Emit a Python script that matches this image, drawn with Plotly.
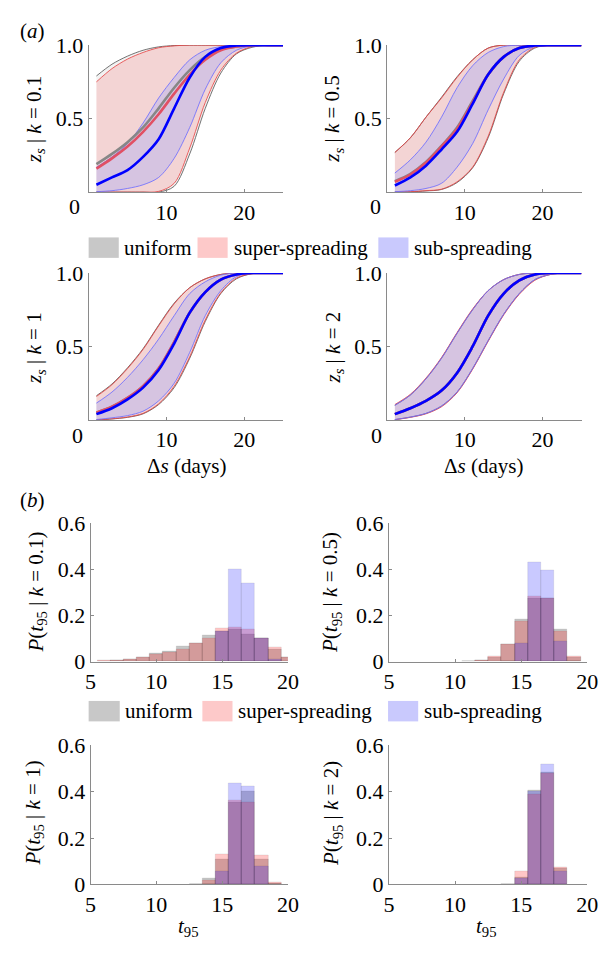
import plotly.graph_objects as go

W, H = 610, 953
FONT = "Liberation Serif, Times New Roman, DejaVu Serif, serif"

# ---------------- data: panel (a) ----------------
S = [1, 3, 5, 7, 9, 11, 13, 15, 17, 19, 21, 23, 25]

# k = 0.1
k01_gray_lo = [0, 0, 0, 0, 0, 0.04, 0.26, 0.57, 0.81, 0.94, 0.985, 0.998, 1]
k01_gray_med = [0.19, 0.26, 0.34, 0.44, 0.57, 0.71, 0.83, 0.92, 0.97, 0.99, 1, 1, 1]
k01_gray_hi = [0.79, 0.87, 0.925, 0.965, 0.988, 0.997, 1, 1, 1, 1, 1, 1, 1]
k01_red_lo = [0, 0, 0, 0, 0.005, 0.06, 0.30, 0.61, 0.83, 0.945, 0.99, 0.998, 1]
k01_red_med = [0.16, 0.23, 0.31, 0.41, 0.53, 0.67, 0.80, 0.90, 0.965, 0.99, 1, 1, 1]
k01_red_hi = [0.75, 0.84, 0.905, 0.95, 0.982, 0.995, 1, 1, 1, 1, 1, 1, 1]
k01_blue_lo = [0.003, 0.01, 0.025, 0.05, 0.10, 0.23, 0.44, 0.70, 0.88, 0.965, 0.995, 1, 1]
k01_blue_med = [0.05, 0.10, 0.15, 0.24, 0.36, 0.57, 0.78, 0.92, 0.98, 0.997, 1, 1, 1]
k01_blue_hi = [0.17, 0.24, 0.33, 0.47, 0.64, 0.78, 0.90, 0.965, 0.99, 1, 1, 1, 1]

# k = 0.5
k05_gray_lo = [0, 0.002, 0.008, 0.018, 0.065, 0.165, 0.37, 0.67, 0.89, 0.98, 1, 1, 1]
k05_gray_med = [0.075, 0.125, 0.205, 0.315, 0.44, 0.62, 0.80, 0.92, 0.98, 0.997, 1, 1, 1]
k05_gray_hi = [0.27, 0.37, 0.51, 0.645, 0.785, 0.90, 0.98, 1, 1, 1, 1, 1, 1]
k05_red_lo = [0, 0.003, 0.01, 0.02, 0.07, 0.17, 0.38, 0.68, 0.90, 0.985, 1, 1, 1]
k05_red_med = [0.07, 0.12, 0.20, 0.31, 0.43, 0.61, 0.80, 0.92, 0.98, 0.997, 1, 1, 1]
k05_red_hi = [0.27, 0.37, 0.51, 0.64, 0.78, 0.90, 0.98, 1, 1, 1, 1, 1, 1]
k05_blue_lo = [0.003, 0.01, 0.025, 0.06, 0.17, 0.33, 0.56, 0.77, 0.93, 0.99, 1, 1, 1]
k05_blue_med = [0.045, 0.10, 0.18, 0.29, 0.41, 0.60, 0.80, 0.92, 0.98, 0.997, 1, 1, 1]
k05_blue_hi = [0.13, 0.22, 0.34, 0.51, 0.71, 0.86, 0.95, 0.99, 1, 1, 1, 1, 1]

# k = 1
k1_gray_lo = [0, 0.007, 0.018, 0.042, 0.105, 0.22, 0.42, 0.67, 0.86, 0.96, 0.995, 1, 1]
k1_gray_med = [0.05, 0.09, 0.15, 0.23, 0.35, 0.53, 0.73, 0.87, 0.955, 0.99, 1, 1, 1]
k1_gray_hi = [0.165, 0.245, 0.355, 0.485, 0.645, 0.795, 0.90, 0.96, 0.99, 1, 1, 1, 1]
k1_red_lo = [0, 0.008, 0.02, 0.045, 0.11, 0.23, 0.43, 0.68, 0.865, 0.965, 0.995, 1, 1]
k1_red_med = [0.05, 0.09, 0.15, 0.23, 0.35, 0.53, 0.73, 0.87, 0.955, 0.99, 1, 1, 1]
k1_red_hi = [0.16, 0.24, 0.35, 0.48, 0.64, 0.79, 0.90, 0.96, 0.99, 1, 1, 1, 1]
k1_blue_lo = [0.003, 0.015, 0.03, 0.06, 0.13, 0.25, 0.46, 0.71, 0.88, 0.975, 1, 1, 1]
k1_blue_med = [0.04, 0.08, 0.14, 0.22, 0.34, 0.52, 0.73, 0.87, 0.955, 0.99, 1, 1, 1]
k1_blue_hi = [0.115, 0.19, 0.29, 0.41, 0.55, 0.71, 0.86, 0.94, 0.985, 1, 1, 1, 1]

# k = 2
k2_gray_lo = [0.003, 0.02, 0.045, 0.095, 0.19, 0.35, 0.54, 0.72, 0.86, 0.955, 0.99, 1, 1]
k2_gray_med = [0.04, 0.08, 0.13, 0.20, 0.32, 0.50, 0.71, 0.86, 0.95, 0.99, 1, 1, 1]
k2_gray_hi = [0.10, 0.17, 0.28, 0.42, 0.59, 0.75, 0.88, 0.955, 0.99, 1, 1, 1, 1]
k2_red_lo = [0.002, 0.018, 0.042, 0.09, 0.185, 0.345, 0.535, 0.715, 0.855, 0.95, 0.99, 1, 1]
k2_red_med = [0.04, 0.08, 0.13, 0.20, 0.32, 0.50, 0.71, 0.86, 0.95, 0.99, 1, 1, 1]
k2_red_hi = [0.105, 0.175, 0.285, 0.425, 0.595, 0.755, 0.88, 0.955, 0.99, 1, 1, 1, 1]
k2_blue_lo = [0.003, 0.02, 0.045, 0.095, 0.19, 0.35, 0.54, 0.72, 0.86, 0.955, 0.99, 1, 1]
k2_blue_med = [0.04, 0.08, 0.13, 0.20, 0.32, 0.50, 0.71, 0.86, 0.95, 0.99, 1, 1, 1]
k2_blue_hi = [0.10, 0.17, 0.28, 0.42, 0.59, 0.75, 0.88, 0.955, 0.99, 1, 1, 1, 1]

# ---------------- data: panel (b) ----------------
T = [6, 7, 8, 9, 10, 11, 12, 13, 14, 15, 16, 17, 18, 19, 20]

h01_gray = [0.003, 0.006, 0.012, 0.02, 0.035, 0.045, 0.068, 0.08, 0.113, 0.13, 0.14, 0.12, 0.10, 0.055, 0.02]
h01_red = [0.004, 0.006, 0.012, 0.02, 0.03, 0.042, 0.055, 0.08, 0.10, 0.145, 0.15, 0.14, 0.10, 0.06, 0.02]
h01_blue = [0, 0, 0, 0, 0, 0, 0, 0, 0, 0.13, 0.40, 0.34, 0.10, 0.01, 0]

h05_gray = [0, 0, 0, 0, 0, 0.002, 0.005, 0.02, 0.075, 0.182, 0.275, 0.275, 0.14, 0.02, 0]
h05_red = [0, 0, 0, 0, 0, 0.002, 0.005, 0.022, 0.075, 0.175, 0.285, 0.275, 0.13, 0.022, 0]
h05_blue = [0, 0, 0, 0, 0, 0, 0, 0, 0.002, 0.08, 0.43, 0.395, 0.09, 0.002, 0]

h1_gray = [0, 0, 0, 0, 0, 0, 0, 0.003, 0.025, 0.11, 0.355, 0.40, 0.11, 0.005, 0]
h1_red = [0, 0, 0, 0, 0, 0, 0, 0.002, 0.018, 0.13, 0.365, 0.355, 0.125, 0.01, 0]
h1_blue = [0, 0, 0, 0, 0, 0, 0, 0, 0.002, 0.055, 0.435, 0.425, 0.08, 0.002, 0]

h2_gray = [0, 0, 0, 0, 0, 0, 0, 0, 0.002, 0.03, 0.405, 0.485, 0.07, 0, 0]
h2_red = [0, 0, 0, 0, 0, 0, 0, 0, 0.003, 0.055, 0.39, 0.48, 0.075, 0, 0]
h2_blue = [0, 0, 0, 0, 0, 0, 0, 0, 0, 0.025, 0.40, 0.52, 0.055, 0, 0]

K_A_LABELS = ["0.1", "0.5", "1", "2"]
K_B_LABELS = ["0.1", "0.5", "1", "2"]
LEGEND_NAMES = ["uniform", "super-spreading", "sub-spreading"]

# ---------------- styling ----------------
GROUP_STYLE = {
    "gray": dict(line="rgba(90,90,90,0.85)", fill="rgba(0,0,0,0.05)", med="rgb(135,135,135)"),
    "red": dict(line="rgba(230,70,70,0.85)", fill="rgba(255,0,0,0.12)", med="rgb(225,80,100)"),
    "blue": dict(line="rgba(110,110,255,0.85)", fill="rgba(150,160,255,0.30)", med="rgb(0,0,255)"),
}
BAR_COLORS = {"gray": "rgba(0,0,0,0.22)", "red": "rgba(255,0,0,0.22)", "blue": "rgba(0,0,255,0.21)"}
SWATCH = ["rgb(200,200,200)", "rgb(253,201,201)", "rgb(201,201,253)"]


def px_x(p):
    return p / W


def px_y(p):
    return 1 - p / H


fig = go.Figure()

# panel boxes in pixels: (x0, x1, ytop, ybottom)
A_BOXES = [(85, 285, 34, 185), (392, 592, 34, 185), (85, 285, 268, 419), (392, 592, 268, 419)]
B_BOXES = [(87, 290, 525, 667), (394, 598, 525, 667), (87, 290, 753, 896), (394, 598, 753, 896)]

A_DATA = [
    (k01_gray_lo, k01_gray_med, k01_gray_hi, k01_red_lo, k01_red_med, k01_red_hi, k01_blue_lo, k01_blue_med, k01_blue_hi),
    (k05_gray_lo, k05_gray_med, k05_gray_hi, k05_red_lo, k05_red_med, k05_red_hi, k05_blue_lo, k05_blue_med, k05_blue_hi),
    (k1_gray_lo, k1_gray_med, k1_gray_hi, k1_red_lo, k1_red_med, k1_red_hi, k1_blue_lo, k1_blue_med, k1_blue_hi),
    (k2_gray_lo, k2_gray_med, k2_gray_hi, k2_red_lo, k2_red_med, k2_red_hi, k2_blue_lo, k2_blue_med, k2_blue_hi),
]
B_DATA = [
    (h01_gray, h01_red, h01_blue),
    (h05_gray, h05_red, h05_blue),
    (h1_gray, h1_red, h1_blue),
    (h2_gray, h2_red, h2_blue),
]

tickfont = dict(family=FONT, size=22, color="black")
axis_common = dict(showline=True, linecolor="#8a8a8a", linewidth=1, showgrid=False, zeroline=False,
                   ticks="inside", ticklen=3, tickcolor="#8a8a8a", tickfont=tickfont, fixedrange=True)

layout_axes = {}
annotations = []

for i, (box, data) in enumerate(zip(A_BOXES, A_DATA)):
    n = i + 1
    xa, ya = ("x" if n == 1 else f"x{n}"), ("y" if n == 1 else f"y{n}")
    x0, x1, yt, yb = box
    layout_axes[f"xaxis{'' if n == 1 else n}"] = dict(
        axis_common, domain=[px_x(x0), px_x(x1)], range=[0, 25], anchor=ya,
        tickvals=[10, 20], ticktext=["10", "20"])
    layout_axes[f"yaxis{'' if n == 1 else n}"] = dict(
        axis_common, domain=[px_y(yb), px_y(yt)], range=[0, 1], anchor=xa,
        tickvals=[0.5, 1.0], ticktext=["0.5", "1.0"])
    for g, (lo, med, hi) in zip(["gray", "red", "blue"], [data[0:3], data[3:6], data[6:9]]):
        st = GROUP_STYLE[g]
        fig.add_trace(go.Scatter(x=S, y=lo, mode="lines", xaxis=xa, yaxis=ya, showlegend=False,
                                 line=dict(color=st["line"], width=1, shape="spline", smoothing=0.9),
                                 hoverinfo="skip"))
        fig.add_trace(go.Scatter(x=S, y=hi, mode="lines", xaxis=xa, yaxis=ya, showlegend=False,
                                 fill="tonexty", fillcolor=st["fill"],
                                 line=dict(color=st["line"], width=1, shape="spline", smoothing=0.9),
                                 hoverinfo="skip"))
    for g, med in zip(["gray", "red", "blue"], [data[1], data[4], data[7]]):
        st = GROUP_STYLE[g]
        fig.add_trace(go.Scatter(x=S, y=med, mode="lines", xaxis=xa, yaxis=ya, showlegend=False,
                                 line=dict(color=st["med"], width=2.6, shape="spline", smoothing=0.9),
                                 hoverinfo="skip"))

for i, (box, data) in enumerate(zip(B_BOXES, B_DATA)):
    n = i + 5
    xa, ya = f"x{n}", f"y{n}"
    x0, x1, yt, yb = box
    layout_axes[f"xaxis{n}"] = dict(
        axis_common, domain=[px_x(x0), px_x(x1)], range=[5, 20], anchor=ya,
        tickvals=[5, 10, 15, 20])
    layout_axes[f"yaxis{n}"] = dict(
        axis_common, domain=[px_y(yb), px_y(yt)], range=[0, 0.6], anchor=xa,
        tickvals=[0, 0.2, 0.4, 0.6], ticktext=["0", "0.2", "0.4", "0.6"])
    for g, vals in zip(["gray", "red", "blue"], data):
        xs = [t for t, v in zip(T, vals) if v > 0]
        ys = [v for v in vals if v > 0]
        fig.add_trace(go.Bar(x=xs, y=ys, width=1, xaxis=xa, yaxis=ya, showlegend=False,
                             marker=dict(color=BAR_COLORS[g], line=dict(color="rgba(0,0,0,0.12)", width=0.6)),
                             hoverinfo="skip"))

# ---------------- annotations ----------------
def ann(text, x, y, size=21, angle=0, xanchor="center", yanchor="middle"):
    annotations.append(dict(text=text, x=px_x(x), y=px_y(y), xref="paper", yref="paper",
                            showarrow=False, textangle=angle, xanchor=xanchor, yanchor=yanchor,
                            font=dict(family=FONT, size=size, color="black")))

ann("(<i>a</i>)", 27, 19)
ann("(<i>b</i>)", 27, 501)

# origin zeros for panel (a)
for (x, y) in [(70, 200), (380, 200), (74, 435), (381, 435)]:
    ann("0", x, y, size=22)

A_TITLE_POS = [(30, 110), (337, 110), (30, 345), (337, 345)]
for (x, y), k in zip(A_TITLE_POS, K_A_LABELS):
    ann(f"<i>z<sub>s</sub></i> | <i>k</i> = {k}", x, y, size=21, angle=-90)

B_TITLE_POS = [(32, 596), (335, 596), (29, 823), (336, 823)]
for (x, y), k in zip(B_TITLE_POS, K_B_LABELS):
    ann(f"<i>P</i>(<i>t</i><sub>95</sub> | <i>k</i> = {k})", x, y, size=21, angle=-90)

ann("Δ<i>s</i> (days)", 186, 466, size=21)
ann("Δ<i>s</i> (days)", 491, 466, size=21)
ann("<i>t</i><sub>95</sub>", 188, 940, size=21)
ann("<i>t</i><sub>95</sub>", 494, 940, size=21)

# legends (manual)
shapes = []
LEG1 = dict(y=242, sw=[(85, 116), (197, 228), (383, 414)], tx=[119, 232, 418])
LEG2 = dict(y=718, sw=[(85, 117), (202, 233), (393, 424)], tx=[120, 237, 428])
for leg in (LEG1, LEG2):
    for (sx0, sx1), tx, col, name in zip(leg["sw"], leg["tx"], SWATCH, LEGEND_NAMES):
        shapes.append(dict(type="rect", xref="paper", yref="paper",
                           x0=px_x(sx0), x1=px_x(sx1), y0=px_y(leg["y"] + 10.5), y1=px_y(leg["y"] - 10.5),
                           fillcolor=col, line=dict(width=0)))
        ann(name, tx, leg["y"], size=21, xanchor="left")

fig.update_layout(
    width=W, height=H, margin=dict(l=0, r=0, t=0, b=0),
    paper_bgcolor="white", plot_bgcolor="white",
    barmode="overlay", bargap=0,
    annotations=annotations, shapes=shapes,
    font=dict(family=FONT, color="black"),
    **layout_axes,
)

fig.write_html("out.html")
